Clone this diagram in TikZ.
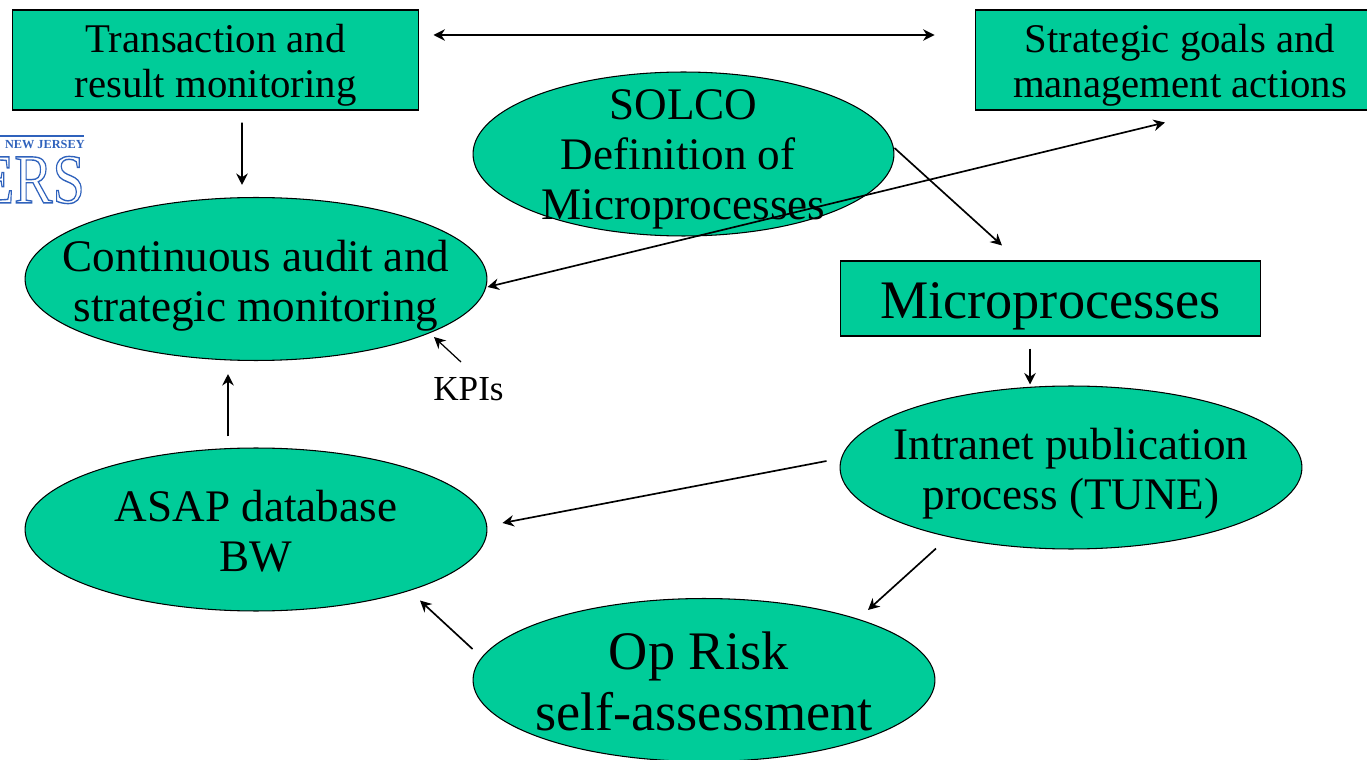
\documentclass[tikz,border=0pt]{standalone}
\usepackage{fontspec}
\setmainfont{Liberation Serif}
\usepackage{xcolor}
\usetikzlibrary{arrows.meta,shapes.geometric}
\definecolor{panelgreen}{HTML}{00CC99}
\definecolor{logoblue}{HTML}{2F62BC}
\newcommand{\sizedtext}[2]{\fontsize{#1}{#2}\selectfont}
\tikzset{
  panel/.style={draw=black,line width=0.6pt,fill=panelgreen,text=black,align=center,inner sep=0pt},
  dropped/.style={text height=#1,text depth=0pt},
  boxpanel/.style={panel,rectangle,font=\sizedtext{23.2}{25.6}},
  ovalpanel/.style={panel,ellipse,inner sep=-1.5cm,minimum width=9.24cm,minimum height=3.26cm,font=\sizedtext{25.7}{28.2}},
  bigtext/.style={font=\sizedtext{30.9}{34.7}},
  link/.style={draw=black,line width=0.95pt,-{Stealth[length=6.5pt,width=6.5pt]}},
  twoway/.style={link,{Stealth[length=6.5pt,width=6.5pt]}-{Stealth[length=6.5pt,width=6.5pt]}}
}

\begin{document}
\begin{tikzpicture}[x=0.02cm,y=-0.02cm]
  \useasboundingbox (0,0) rectangle (1367,760);

  % logo at the left edge
  \begin{scope}
    \clip (0,130) rectangle (86,210);
    \node[inner sep=0pt,text=logoblue,anchor=east,xscale=0.82] (logo) at (85,180)
      {\special{pdf:code 1 Tr 0.8 w}\sizedtext{40}{40}ERS\special{pdf:code 0 Tr}};
    \node[inner sep=0pt,text=logoblue,anchor=east,font=\bfseries] (logotop) at (85,145)
      {\sizedtext{7}{7}NEW JERSEY};
    \draw[logoblue,line width=0.6pt] (0,136) -- (84,136);
  \end{scope}

  % boxes
  \node[boxpanel,dropped=43pt,minimum width=8.14cm,minimum height=2cm] (transaction) at (215.5,60)
    {Transaction and\\result monitoring};
  \node[boxpanel,dropped=43pt,minimum width=8.2cm,minimum height=2cm] (strategic) at (1180,60)
    {Strategic goals and\\management actions};
  \node[boxpanel,bigtext,dropped=22.3pt,minimum width=8.42cm,minimum height=1.5cm] (micro) at (1050.5,298.5)
    {Microprocesses};

  % ovals
  \node[ovalpanel,dropped=75pt,font=\sizedtext{25.7}{28.5},minimum width=8.42cm,minimum height=3.28cm] (solco) at (683.5,154)
    {SOLCO\\Definition of\hspace{6pt}\null\\Microprocesses};
  \node[ovalpanel,dropped=48pt] (continuous) at (256,279)
    {Continuous audit and\\strategic monitoring};
  \node[ovalpanel,dropped=47.6pt] (intranet) at (1071,467.5)
    {Intranet publication\\process (TUNE)};
  \node[ovalpanel,dropped=47.6pt] (asap) at (256,529.5)
    {ASAP database\\BW};
  \node[ovalpanel,bigtext,dropped=58pt] (oprisk) at (704,680)
    {Op Risk\hspace{6pt}\null\\self-assessment};
  \node[inner sep=0pt,font=\sizedtext{20}{22}] (kpis) at (468.5,389) {KPIs};

  % arrows
  \draw[twoway] ([shift={(14,-25)}]transaction.east) -- ([shift={(-40,-25)}]strategic.west);
  \draw[link] ([shift={(26.5,12)}]transaction.south) -- ([shift={(-14,-12)}]continuous.north);
  \draw[link] ([shift={(0,-6)}]solco.east) -- ([shift={(-48.5,-15)}]micro.north);
  \draw[twoway] ([shift={(0,8)}]continuous.east) -- ([shift={(-15,12)}]strategic.south);
  \draw[link] ([shift={(-20.5,12)}]micro.south) -- ([shift={(-41,-1)}]intranet.north);
  \draw[link] ([shift={(-13,-6.5)}]intranet.west) -- ([shift={(15,-6.5)}]asap.east);
  \draw[link] ([shift={(-135,-1)}]intranet.south) -- ([shift={(164,12)}]oprisk.north);
  \draw[link] ([shift={(0,-31)}]oprisk.west) -- ([shift={(164,-11)}]asap.south);
  \draw[link] ([shift={(-28,-11)}]asap.north) -- ([shift={(-28,13)}]continuous.south);
  \draw[link,line width=0.7pt] ([shift={(-7.5,-27)}]kpis.center) -- ([shift={(178,-24)}]continuous.south);

\end{tikzpicture}
\end{document}
